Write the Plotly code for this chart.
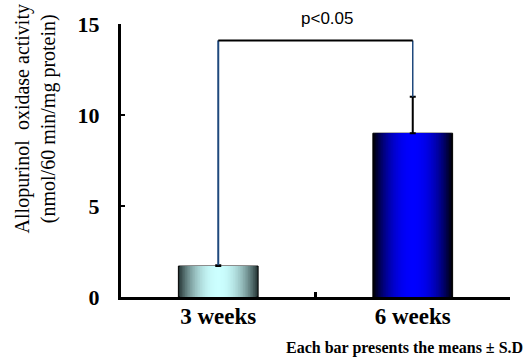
import plotly.graph_objects as go

categories = ["3 weeks", "6 weeks"]
means = [1.7, 9.0]
sds = [0.05, 2.0]
bracket_level = 14.1
p_label = "p<0.05"
y_ticks = [0, 5, 10, 15]

edge_colors = [(40, 56, 56), (0, 0, 10)]
center_colors = [(204, 255, 255), (0, 0, 255)]

W = 0.41
n = 24
fig = go.Figure()

def mix(a, b, t):
    return "rgb(%d,%d,%d)" % tuple(round(a[i] + (b[i] - a[i]) * t) for i in range(3))

for k in range(n):
    frac = 1 - k / n          # 1 at edge, ->0 at center
    t = 1 - frac ** 2.2       # 0 at edge, 1 at center
    cols = [mix(edge_colors[i], center_colors[i], t) for i in range(2)]
    fig.add_trace(go.Bar(
        x=categories, y=means, width=W * frac,
        marker=dict(color=cols,
                    line=dict(color="black", width=1 if k == 0 else 0)),
        showlegend=False, hoverinfo="skip",
    ))

# error bars (upper only)
fig.add_trace(go.Bar(
    x=categories, y=means, width=0.001,
    marker=dict(color="rgba(0,0,0,0)", line=dict(width=0)),
    error_y=dict(type="data", symmetric=False, array=sds,
                 arrayminus=[0, 0], color="black", thickness=2, width=3),
    showlegend=False, hoverinfo="skip",
))

tops = [means[i] + sds[i] for i in range(2)]
# bracket verticals
fig.add_trace(go.Scatter(x=[categories[0], categories[0]], y=[tops[0], bracket_level],
                         mode="lines", line=dict(color="#1f497d", width=2),
                         showlegend=False, hoverinfo="skip"))
fig.add_trace(go.Scatter(x=[categories[1], categories[1]], y=[tops[1], bracket_level],
                         mode="lines", line=dict(color="#1f497d", width=1.5),
                         showlegend=False, hoverinfo="skip"))
fig.add_trace(go.Scatter(x=[categories[0], categories[1]], y=[bracket_level, bracket_level],
                         mode="lines", line=dict(color="black", width=2),
                         showlegend=False, hoverinfo="skip"))

serif = "Liberation Serif, Times New Roman, serif"

fig.update_layout(
    width=524, height=360,
    margin=dict(l=121, r=14, t=24, b=63),
    paper_bgcolor="white", plot_bgcolor="white",
    barmode="overlay",
    xaxis=dict(type="category", range=[-0.5, 1.5], showline=True, linecolor="black",
               linewidth=3, ticks="inside", ticklen=5, tickwidth=3, tickcolor="black",
               tickson="boundaries", showgrid=False, zeroline=False, ticklabelstandoff=-4,
               tickfont=dict(family=serif, size=23, color="black", weight="bold")),
    yaxis=dict(range=[0, 15], tickvals=y_ticks, showline=True, linecolor="black",
               linewidth=3, ticks="inside", ticklen=4, tickwidth=2, tickcolor="black",
               showgrid=False, zeroline=False, ticklabelstandoff=14,
               tickfont=dict(family=serif, size=22, color="black", weight="bold")),
    annotations=[
        dict(text="Allopurinol&nbsp; oxidase activity<br>(nmol/60 min/mg protein)",
             xref="paper", yref="paper", x=-0.22, y=0.652, textangle=-90,
             showarrow=False, xanchor="center", yanchor="middle",
             font=dict(family=serif, size=20, color="black")),
        dict(text=p_label, xref="paper", yref="paper", x=0.53, y=1.0,
             showarrow=False, xanchor="center", yanchor="bottom", yshift=-6,
             font=dict(family="Liberation Sans, Arial, sans-serif", size=17, color="black")),
        dict(text="Each bar presents the means \u00b1 S.D", xref="paper", yref="paper",
             x=(525 - 121) / 389, y=-(348 - 297) / 273, showarrow=False,
             xanchor="right", yanchor="middle",
             font=dict(family=serif, size=16, color="black", weight="bold")),
    ],
)

fig.write_html("out.html")
